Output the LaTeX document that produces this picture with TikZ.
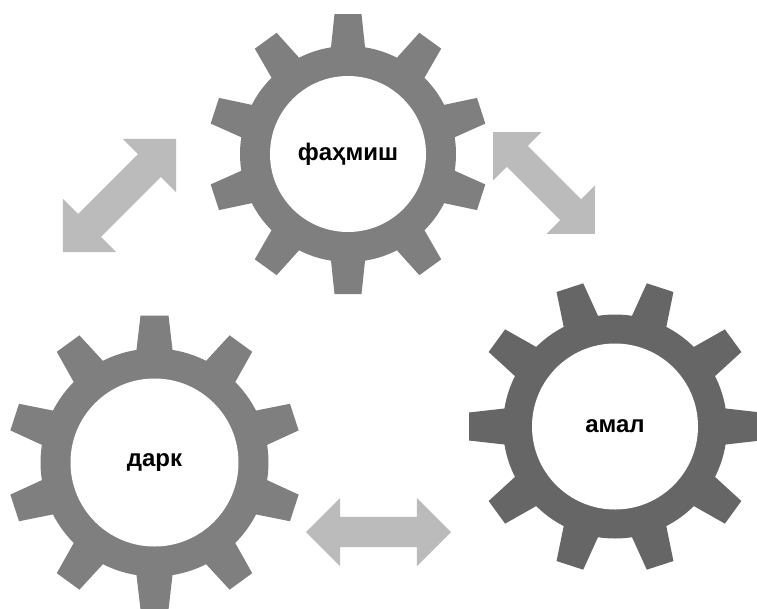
\documentclass[tikz,border=0pt]{standalone}
\usepackage{fontspec}
\setmainfont{Liberation Sans}
\usetikzlibrary{shapes.arrows}
\definecolor{geargray}{HTML}{7F7F7F}
\definecolor{geardark}{HTML}{666666}
\definecolor{arrowgray}{HTML}{BBBBBB}
\tikzset{
  hub/.style={circle,fill=white,inner sep=0pt,font=\fontsize{24}{28}\selectfont\bfseries},
  swap/.style={double arrow,fill=arrowgray,inner xsep=0pt,outer sep=0pt,double arrow tip angle=90,double arrow head indent=0pt}
}
\begin{document}
\begin{tikzpicture}[x=1pt,y=1pt]
\useasboundingbox (0,0) rectangle (757,-608);
% gears: name/x/y/first tooth/ring/hole/tip/base/top/colour/text
\foreach \nm/\cx/\cy/\first/\ring/\hole/\tip/\bw/\tw/\col/\txt in {
  understand/348/-154/90/108/78/140/17.2/13.5/geargray/фаҳмиш,
  know/154.5/-462.5/90/114/84/147/18.2/14/geargray/дарк,
  act/615/-426.5/0/112/83/146/18.2/14/geardark/амал}
{
  \begin{scope}[shift={(\cx,\cy)}]
    \fill[\col] (0,0) circle (\ring);
    \foreach \a in {0,36,...,324}
      \fill[\col,rotate=\first+\a] (\ring-3,-\bw) -- (\tip,-\tw) -- (\tip,\tw) -- (\ring-3,\bw) -- cycle;
  \end{scope}
  \node[hub,minimum size=2*\hole] (\nm) at (\cx,\cy) {\txt};
}
% arrows between the gears
\node[swap,rotate=45,minimum height=160,inner ysep=16pt,double arrow head extend=21.5pt] (leftarrow) at (119.5,-195.5) {};
\node[swap,rotate=-45,minimum height=144,inner ysep=14.5pt,double arrow head extend=19.5pt] (rightarrow) at (544,-183) {};
\node[swap,minimum height=145,inner ysep=15pt,double arrow head extend=19pt] (bottomarrow) at (378.5,-532) {};
\end{tikzpicture}
\end{document}
